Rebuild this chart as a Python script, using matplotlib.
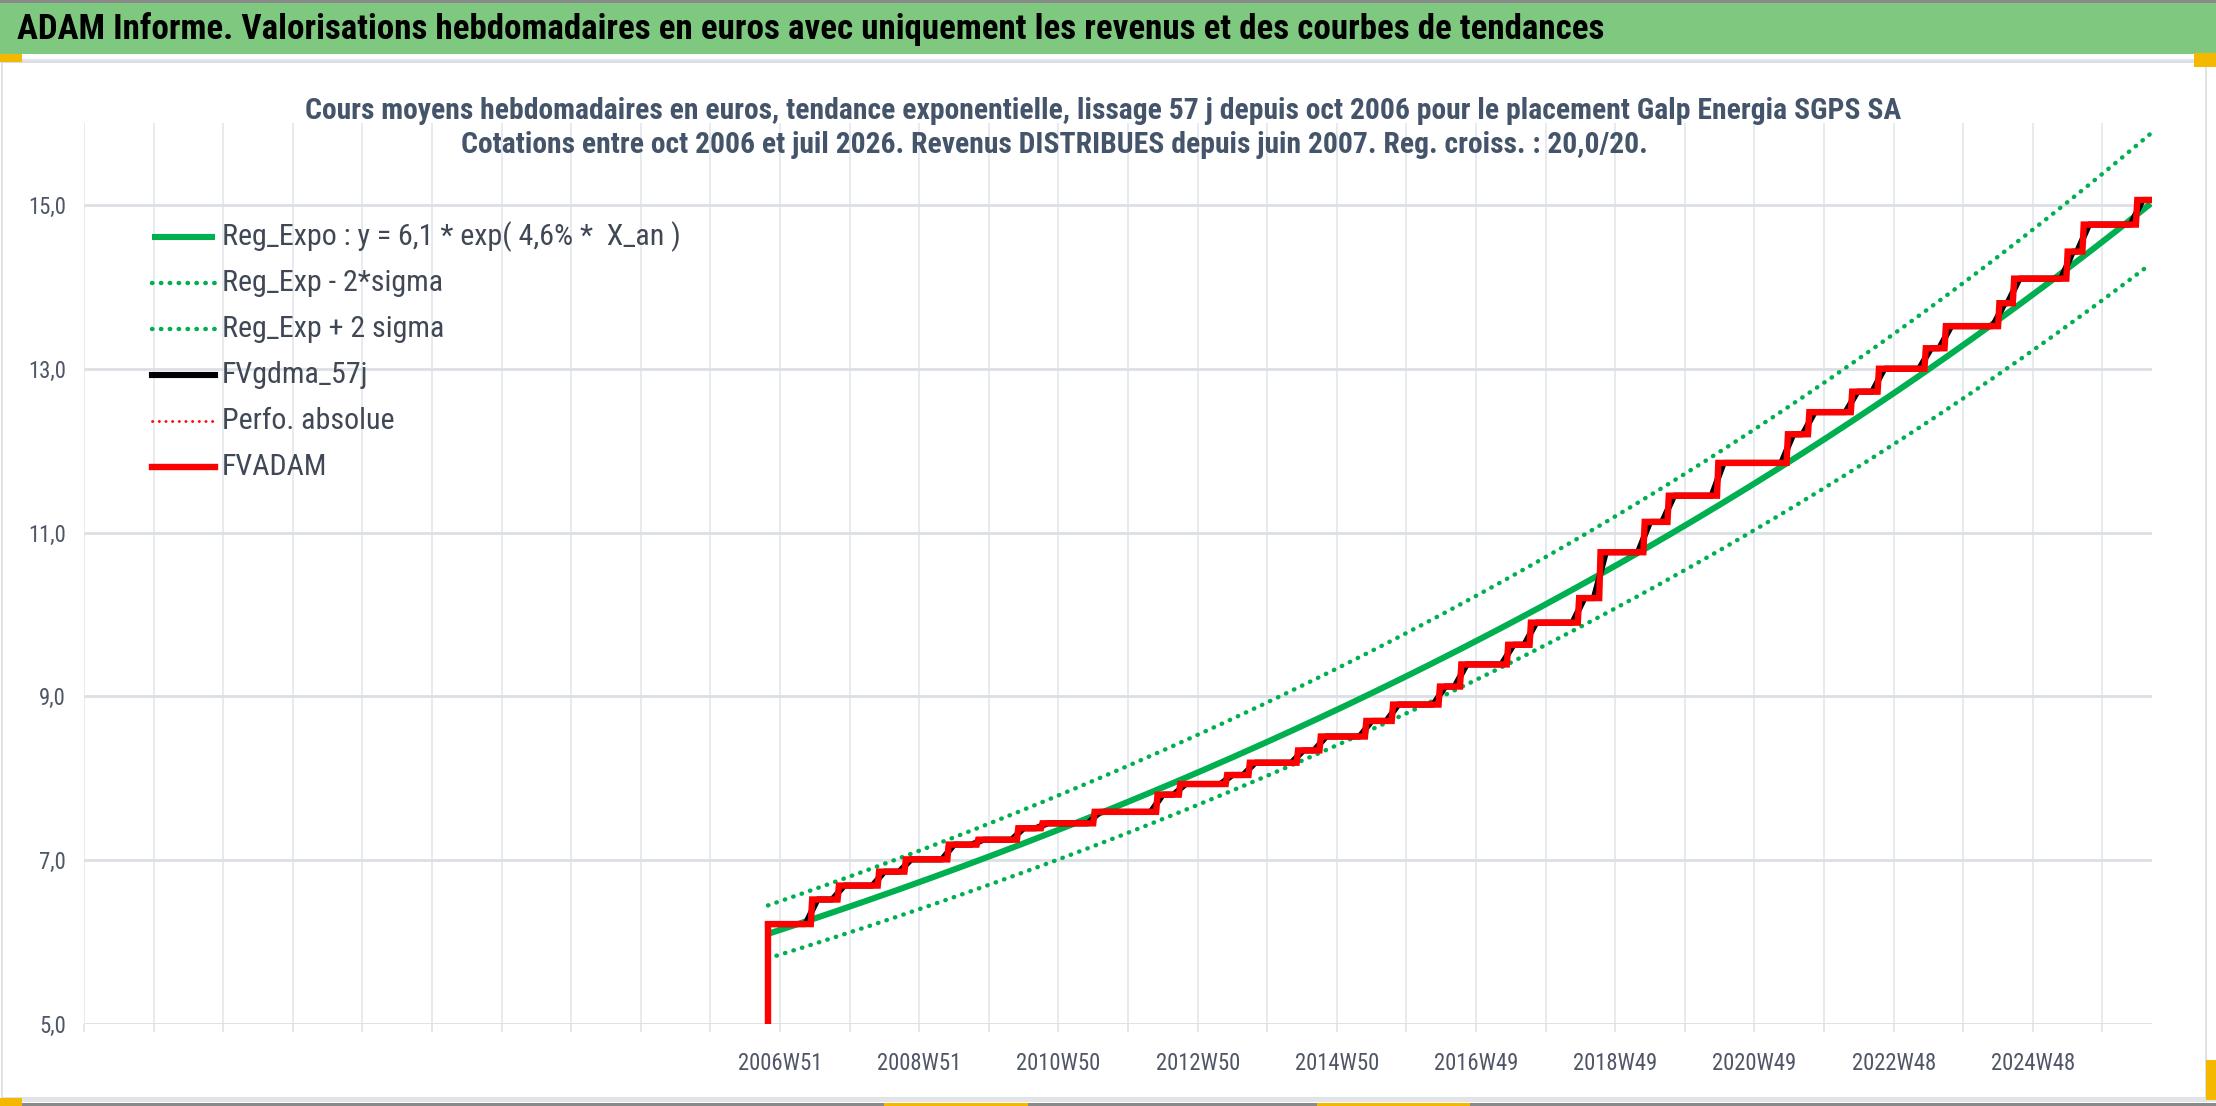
import numpy as np
import pandas as pd
import matplotlib
matplotlib.use("Agg")
import matplotlib.pyplot as plt
from matplotlib import font_manager as fm
from matplotlib.patches import Rectangle
from matplotlib.lines import Line2D

# ---------------- data ----------------
start_week = 511          # week index of first quotation (oct 2006)
end_week = 1544           # week index of last quotation (juil 2026)
step_weeks = [511, 544, 564, 594, 614, 646, 668, 698, 716, 755, 802, 819, 854, 871,
              907, 924, 958, 978, 1013, 1029, 1064, 1081, 1117, 1133, 1166, 1184,
              1221, 1273, 1289, 1321, 1341, 1376, 1391, 1431, 1442, 1482, 1494, 1534]
step_values = [6.22, 6.52, 6.69, 6.86, 7.01, 7.19, 7.25, 7.39, 7.45, 7.59, 7.80, 7.93,
               8.04, 8.19, 8.34, 8.51, 8.70, 8.90, 9.12, 9.39, 9.63, 9.90, 10.20, 10.76,
               11.13, 11.45, 11.85, 12.20, 12.47, 12.72, 13.00, 13.25, 13.52, 13.80,
               14.10, 14.43, 14.76, 15.06]
reg_a = 6.1
reg_rate = 0.0455
band_up = 1.057
band_low = 0.951
weeks_per_year = 52.18
smooth_weeks = 9
tick_label_weeks = [520, 624, 728, 832, 936, 1040, 1144, 1248, 1352, 1456]
tick_labels = ["2006W51", "2008W51", "2010W50", "2012W50", "2014W50",
               "2016W49", "2018W49", "2020W49", "2022W48", "2024W48"]
y_ticks = [5.0, 7.0, 9.0, 11.0, 13.0, 15.0]
legend_labels = ["Reg_Expo : y = 6,1 * exp( 4,6% *  X_an )", "Reg_Exp - 2*sigma",
                 "Reg_Exp + 2 sigma", "FVgdma_57j", "Perfo. absolue", "FVADAM"]
header = ("ADAM Informe. Valorisations hebdomadaires en euros avec uniquement les revenus "
          "et des courbes de tendances")
sub1 = ("Cours moyens hebdomadaires en euros, tendance exponentielle, lissage 57 j depuis "
        "oct 2006 pour le placement Galp Energia SGPS SA")
sub2 = ("Cotations entre oct 2006 et juil 2026. Revenus DISTRIBUES depuis juin 2007. "
        "Reg. croiss. : 20,0/20.")

# ---------------- font ----------------
avail = {f.name for f in fm.fontManager.ttflist}
FONT = "DejaVu Sans"
for cand in ["Roboto Condensed", "Liberation Sans Narrow", "Open Sans Condensed",
             "Noto Sans", "Liberation Sans"]:
    if cand in avail:
        FONT = cand
        break
plt.rcParams["font.family"] = [FONT, "DejaVu Sans"]

# ---------------- series ----------------
weeks = np.arange(start_week, end_week + 1)
idx = np.searchsorted(step_weeks, weeks, side="right") - 1
fvadam = np.array(step_values)[idx]
red_x = np.concatenate([[start_week], weeks])
red_y = np.concatenate([[0.0], fvadam])
black = pd.Series(fvadam).rolling(smooth_weeks, center=True, min_periods=1).mean().values
x_an = (weeks - start_week) / weeks_per_year
reg = reg_a * np.exp(reg_rate * x_an)

# ---------------- figure ----------------
W, H = 2216, 1106
fig = plt.figure(figsize=(W / 100, H / 100), dpi=100)
fig.patch.set_facecolor("white")
renderer = fig.canvas.get_renderer()

def fx(x):
    return x / W

def fy(y):
    return 1 - y / H

def px(x0, y0, w, h, **kw):
    fig.patches.append(Rectangle((fx(x0), fy(y0 + h)), w / W, h / H,
                                 transform=fig.transFigure, **kw))

def fit(t, target):
    w = t.get_window_extent(renderer).width
    t.set_fontsize(t.get_fontsize() * target / w)
    return t.get_fontsize()

# frame decorations
px(0, 0, W, 3, facecolor="#8a8a8a", edgecolor="none")
px(0, 3, W, 51, facecolor="#7ec97f", edgecolor="none")
px(0, 59, W, 4, facecolor="#e2e4e8", edgecolor="none")
px(2, 62, 2204, 1036, facecolor="none", edgecolor="#d9dbe0", linewidth=1.2)
px(0, 1098, W, 4, facecolor="#e2e4e8", edgecolor="none")
px(0, 1103, W, 3, facecolor="#8a8a8a", edgecolor="none")
for (x0, y0, w, h) in [(0, 54, 22, 8), (2194, 53, 22, 14), (0, 1098, 22, 8),
                       (2206, 1060, 10, 40), (884, 1103, 144, 3), (1317, 1103, 153, 3)]:
    px(x0, y0, w, h, facecolor="#f5b800", edgecolor="none")

# tick label size fitted on the reference width of "2006W51"
tmp = fig.text(0, 0, tick_labels[0], fontsize=16)
tick_fs = fit(tmp, 85)
tmp.remove()

L, R, T, B = 84, 2152, 123, 1024
ax = fig.add_axes([fx(L), fy(B), (R - L) / W, (B - T) / H])
ax.set_facecolor("none")
ax.set_xlim(0, 1545)
ax.set_ylim(5.0, 16.0)
for s in ax.spines.values():
    s.set_visible(False)

grid_weeks = np.arange(0, 1509, 52)
ax.set_xticks(grid_weeks)
lab = {w: t for w, t in zip(tick_label_weeks, tick_labels)}
ax.set_xticklabels([lab.get(w, "") for w in grid_weeks])
ax.set_yticks(y_ticks)
ax.set_yticklabels([f"{v:.1f}".replace(".", ",") for v in y_ticks])
ax.tick_params(axis="x", length=6, width=1.2, color="#e0e3e8", pad=14,
               labelsize=tick_fs, labelcolor="#4f5666")
ax.tick_params(axis="y", length=0, pad=13, labelsize=tick_fs, labelcolor="#4f5666")
for w in grid_weeks:
    ax.axvline(w, color="#e3e6eb", lw=1.2, zorder=0)
for v in y_ticks:
    ax.axhline(v, color="#dcdfe4", lw=2.0, zorder=0)

green = "#00b050"
red = "#ff0000"
styles = [
    dict(color=green, lw=4.4, solid_capstyle="butt"),
    dict(color=green, lw=3.2, linestyle=(0, (0.1, 1.9)), dash_capstyle="round"),
    dict(color=green, lw=3.2, linestyle=(0, (0.1, 1.9)), dash_capstyle="round"),
    dict(color="black", lw=4.4),
    dict(color=red, lw=2.0, linestyle=(0, (0.1, 2.3)), dash_capstyle="round"),
    dict(color=red, lw=4.6, solid_joinstyle="miter"),
]
ax.plot(weeks, reg, zorder=3, **styles[0])
ax.plot(weeks, reg * band_low, zorder=3, **styles[1])
ax.plot(weeks, reg * band_up, zorder=3, **styles[2])
ax.plot(weeks, black, zorder=4, **styles[3])
ax.plot([], [], **styles[4])
ax.plot(red_x, red_y, zorder=5, **styles[5])

# legend (drawn in figure pixel positions of the reference)
leg_fs = None
for i, (lbl, st) in enumerate(zip(legend_labels, styles)):
    yc = 237 + 46 * i
    fig.add_artist(Line2D([fx(152), fx(215)], [fy(yc), fy(yc)],
                          transform=fig.transFigure, **st))
    t = fig.text(fx(222), fy(yc), lbl, fontsize=leg_fs or 22, color="#404856",
                 ha="left", va="center")
    if leg_fs is None:
        leg_fs = fit(t, 459)

# titles
th = fig.text(fx(17), fy(29), header, fontsize=24, fontweight="bold", color="black",
              ha="left", va="center")
fit(th, 1591)
t1 = fig.text(fx(1103), fy(111), sub1, fontsize=20, fontweight="bold", color="#44546a",
              ha="center", va="center")
sfs = fit(t1, 1590)
fig.text(fx(1054), fy(145), sub2, fontsize=sfs, fontweight="bold", color="#44546a",
         ha="center", va="center")

fig.savefig("out.png", dpi=100, facecolor="white")
